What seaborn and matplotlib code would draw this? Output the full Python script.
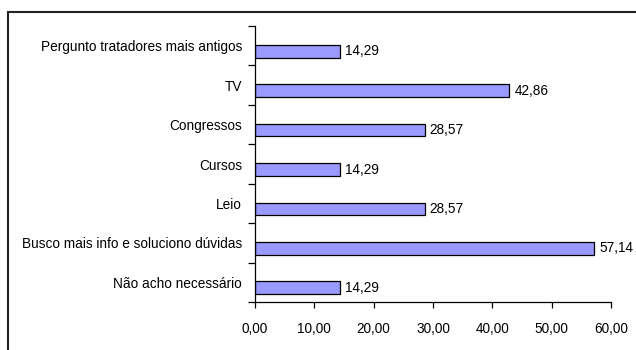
import matplotlib
matplotlib.use("Agg")
import matplotlib.pyplot as plt
import matplotlib.transforms as mtransforms
from matplotlib.patches import Rectangle
from matplotlib.ticker import FixedLocator, FuncFormatter
import numpy as np
import pandas as pd
import seaborn as sns

categories = [
    "Pergunto tratadores mais antigos",
    "TV",
    "Congressos",
    "Cursos",
    "Leio",
    "Busco mais info e soluciono dúvidas",
    "Não acho necessário",
]
values = [14.29, 42.86, 28.57, 14.29, 28.57, 57.14, 14.29]
x_ticks = [0, 10, 20, 30, 40, 50, 60]

sns.set_theme(style="white")
plt.rcParams["font.family"] = ["Liberation Sans", "DejaVu Sans"]
FS = 9.8

df = pd.DataFrame({"cat": categories, "val": values})

fig = plt.figure(figsize=(6.36, 3.5), dpi=100)
ax = fig.add_axes([255 / 636, 1 - 302 / 350, (611 - 255) / 636, (302 - 26) / 350])

sns.barplot(data=df, x="val", y="cat", orient="h", color="#9999FF",
            saturation=1, width=0.32, edgecolor="black", linewidth=0.9, ax=ax)

# bars sit slightly below the category centre (Excel look)
shift = mtransforms.ScaledTranslation(0, -5.5 / 100, fig.dpi_scale_trans)
for p in ax.patches:
    p.set_transform(ax.transData + shift)

for i, v in enumerate(values):
    ax.annotate(f"{v:.2f}".replace(".", ","), xy=(v, i), xycoords="data",
                xytext=(5, -5.5), textcoords="offset pixels",
                ha="left", va="center", fontsize=FS, color="black")

n = len(categories)
ax.set_ylim(n - 0.5, -0.5)
ax.set_xlim(0, 60)
ax.set_xticks(x_ticks)
ax.xaxis.set_major_formatter(FuncFormatter(lambda v, _: f"{v:.2f}".replace(".", ",")))

ax.yaxis.set_major_locator(FixedLocator(np.arange(n + 1) - 0.5))
ax.yaxis.set_major_formatter(FuncFormatter(lambda v, _: ""))
ax.yaxis.set_minor_locator(FixedLocator(np.arange(n)))
ax.yaxis.set_minor_formatter(FuncFormatter(lambda v, _: categories[int(round(v))]))
ax.tick_params(axis="y", which="major", length=5, width=0.9, color="black", direction="out", left=True)
ax.tick_params(axis="y", which="minor", length=0, labelsize=FS, pad=9.3, labelcolor="black")
ax.tick_params(axis="x", which="major", length=4, width=0.9, color="black", direction="out",
               bottom=True, labelsize=FS, pad=10.5, labelcolor="black")
ax.set_xlabel("")
ax.set_ylabel("")

for s in ["top", "right"]:
    ax.spines[s].set_visible(False)
for s in ["left", "bottom"]:
    ax.spines[s].set_color("black")
    ax.spines[s].set_linewidth(0.9)

# outer chart frame (only top and left edges visible in the crop)
frame = Rectangle((8 / 636, -0.2), 1.2, 1 - 12 / 350 + 0.2, transform=fig.transFigure,
                  fill=False, edgecolor="#222222", linewidth=1.5, clip_on=False)
fig.add_artist(frame)

fig.savefig("out.png", dpi=100)
